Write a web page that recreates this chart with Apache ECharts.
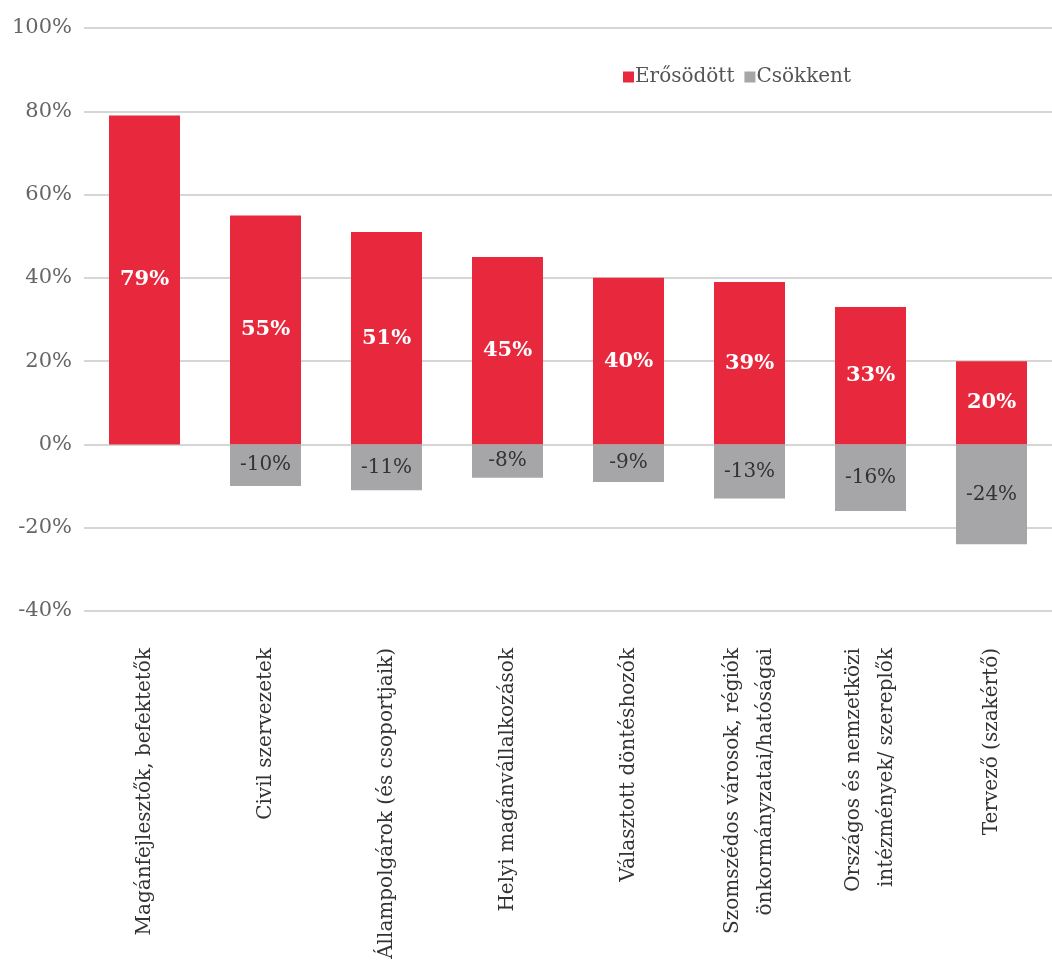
<!DOCTYPE html>
<html>
<head>
<meta charset="utf-8">
<script src="https://cdn.jsdelivr.net/npm/echarts@6/dist/echarts.min.js"></script>
<style>
  html, body { margin: 0; padding: 0; background: #fff; }
  #chart { width: 1052px; height: 974px; }
</style>
</head>
<body>
<div id="chart"></div>
<script>
// szereplők
const categories = [
    'Magánfejlesztők, befektetők',
    'Civil szervezetek',
    'Állampolgárok (és csoportjaik)',
    'Helyi magánvállalkozások',
    'Választott döntéshozók',
    'Szomszédos városok, régiók\nönkormányzatai/hatóságai',
    'Országos és nemzetközi\nintézmények/ szereplők',
    'Tervező (szakértő)'
];
const erosodott = [79, 55, 51, 45, 40, 39, 33, 20];
const csokkent = [null, -10, -11, -8, -9, -13, -16, -24];
const yTicks = [-40, -20, 0, 20, 40, 60, 80, 100];

const serif = '"DejaVu Serif", "Liberation Serif", serif';

var myChart = echarts.init(document.getElementById('chart'));
myChart.setOption({
    animation: false,
    textStyle: { fontFamily: serif },
    legend: {
        left: 618,
        top: 62,
        itemWidth: 11,
        itemHeight: 11,
        itemGap: 10,
        icon: 'rect',
        textStyle: { fontFamily: serif, fontSize: 20, color: '#555', padding: [0, 0, 0, -4] },
        data: ['Erősödött', 'Csökkent']
    },
    grid: {
        left: 84,
        top: 28,
        width: 976,
        height: 583
    },
    yAxis: {
        type: 'value',
        min: yTicks[0],
        max: yTicks[yTicks.length - 1],
        interval: 20,
        axisLine: { show: false },
        axisTick: { show: false },
        axisLabel: {
            formatter: '{value}%',
            fontFamily: serif,
            fontSize: 21,
            color: '#666',
            margin: 12
        },
        splitLine: { lineStyle: { color: '#c8c8c8', width: 1.5 } }
    },
    xAxis: {
        type: 'category',
        data: categories,
        axisLine: { show: false, onZero: false },
        axisTick: { show: false },
        axisLabel: {
            rotate: 90,
            interval: 0,
            margin: 37,
            fontFamily: serif,
            fontSize: 20,
            lineHeight: 33,
            color: '#333'
        }
    },
    series: [
        {
            name: 'Erősödött',
            type: 'bar',
            stack: 'total',
            barWidth: 71,
            itemStyle: { color: '#e8283c' },
            label: {
                show: true,
                position: 'inside',
                formatter: '{c}%',
                color: '#fff',
                fontWeight: 'bold',
                fontFamily: serif,
                fontSize: 21
            },
            data: erosodott
        },
        {
            name: 'Csökkent',
            type: 'bar',
            stack: 'total',
            barWidth: 71,
            itemStyle: { color: '#a6a6a8' },
            label: {
                show: true,
                position: 'inside',
                formatter: '{c}%',
                color: '#333',
                fontFamily: serif,
                fontSize: 20
            },
            data: csokkent
        }
    ]
});
</script>
</body>
</html>
